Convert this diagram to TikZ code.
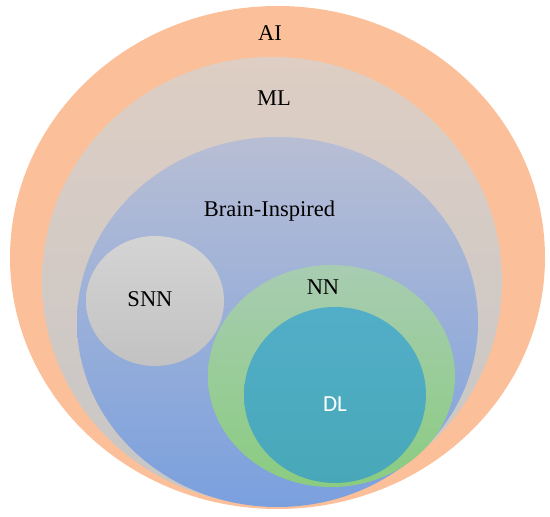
\documentclass[tikz,border=0pt]{standalone}
\usepackage{fontspec}
\setmainfont{Liberation Serif}
\newfontfamily\dlfont{Carlito}
\usetikzlibrary{shapes.geometric}
\definecolor{aiC}{RGB}{251,192,154}
\definecolor{mlTop}{RGB}{222,206,196}
\definecolor{mlBot}{RGB}{198,198,198}
\definecolor{brTop}{RGB}{184,190,212}
\definecolor{brBot}{RGB}{122,160,222}
\definecolor{snnTop}{RGB}{212,212,212}
\definecolor{snnBot}{RGB}{194,194,194}
\definecolor{nnTop}{RGB}{168,204,178}
\definecolor{nnBot}{RGB}{138,204,128}
\definecolor{dlTop}{RGB}{82,174,200}
\definecolor{dlBot}{RGB}{72,168,184}
\tikzset{
  blob/.style={ellipse, inner sep=0pt, draw=none},
  lbl/.style={font=\fontsize{22.5}{26}\selectfont, text=black, inner sep=0pt},
}
\begin{document}
\begin{tikzpicture}[x=1pt,y=1pt]
\useasboundingbox (0,0) rectangle (550,517);
\node[blob, fill=aiC, minimum width=535pt, minimum height=503pt] (ai) at (277.5,259.5) {};
\node[blob, top color=mlTop, bottom color=mlBot, minimum width=460pt, minimum height=448pt] (ml) at (272,236) {};
\node[blob, top color=brTop, bottom color=brBot, minimum width=401pt, minimum height=370pt] (br) at (277.5,195) {};
\node[blob, top color=snnTop, bottom color=snnBot, minimum width=138pt, minimum height=130pt] (snn) at (155,216) {};
\node[blob, top color=nnTop, bottom color=nnBot, minimum width=247pt, minimum height=222pt] (nn) at (331.5,141) {};
\node[blob, top color=dlTop, bottom color=dlBot, minimum width=182pt, minimum height=176pt] (dl) at (335,122) {};
\node[lbl] (tai) at (270,484) {AI};
\node[lbl] (tml) at (274,419) {ML};
\node[lbl] (tbr) at (269.5,305.5) {Brain-Inspired};
\node[lbl] (tsnn) at (150,218) {SNN};
\node[lbl] (tnn) at (323,230) {NN};
\node[lbl, font=\dlfont\fontsize{23}{27}\selectfont, text=white] (tdl) at (335,113) {DL};
\end{tikzpicture}
\end{document}
